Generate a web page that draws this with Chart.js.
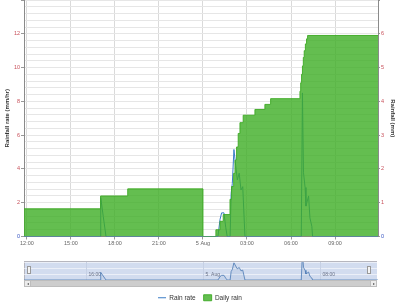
<!DOCTYPE html>
<html>
<head>
<meta charset="utf-8">
<script src="https://cdn.jsdelivr.net/npm/chart.js@4.4.1/dist/chart.umd.min.js"></script>
<style>
  html, body { margin: 0; padding: 0; background: #fff; }
  #wrap { position: relative; width: 400px; height: 303px; overflow: hidden; }
  #main { position: absolute; left: 0; top: 0; }
  #nav { position: absolute; left: 24px; top: 261px; width: 353px; height: 19px;
         background: #d2dcef; border-top: 1px solid #b6b6be; border-left: 1px solid #b6b6be; box-sizing: border-box; }
  #navc { position: absolute; left: -1px; top: 0; }
  .handle { position: absolute; top: 266px; width: 4px; height: 8px; background: #f4f4f4; border: 1px solid #999; box-sizing: border-box; }
  #scroll { position: absolute; left: 24px; top: 280px; width: 353px; height: 7px; background: #cdcdcd; border: 1px solid #bdbdbd; box-sizing: border-box; }
  .btn { position: absolute; top: 280px; width: 7px; height: 7px; background: #ececec; border: 1px solid #bdbdbd; box-sizing: border-box; }
  .arrow { position: absolute; top: 1.5px; width: 0; height: 0; border-top: 1.5px solid transparent; border-bottom: 1.5px solid transparent; }
</style>
</head>
<body>
<div id="wrap">
  <canvas id="main" width="400" height="303"></canvas>
  <div id="nav"><canvas id="navc" width="354" height="18"></canvas></div>
  <div class="handle" style="left:27px"></div>
  <div class="handle" style="left:367px"></div>
  <div id="scroll"></div>
  <div class="btn" style="left:24px"><div class="arrow" style="left:1.5px;border-right:2.5px solid #555"></div></div>
  <div class="btn" style="left:370px"><div class="arrow" style="left:2px;border-left:2.5px solid #555"></div></div>
</div>
<script>
/////////////////////////////////////////////////////////////////////////////////

// x values are hours counted from 4 Aug 00:00
var xMin = 11.8;
var xMax = 35.93;

// Tick labels
var tickHours = [12, 15, 18, 21, 24, 27, 30, 33];
var tickLabels = ['12:00', '15:00', '18:00', '21:00', '5 Aug', '03:00', '06:00', '09:00'];
var navTickHours = [16, 24, 32];
var navTickLabels = ['16:00', '5. Aug', '08:00'];

// Daily rain (mm), stepped
var rainHours = [11.8, 17.02, 18.87, 24.0, 24.88, 25.16, 25.38, 25.84, 25.95, 26.09, 26.18, 26.29, 26.40, 26.52, 26.74, 27.54, 28.22, 28.61, 30.61, 30.66, 30.72, 30.78, 30.84, 30.90, 30.98, 31.06, 31.13, 35.93];
var dailyRain = [0.82, 1.2, 1.41, 0, 0.2, 0.45, 0.65, 1.1, 1.48, 1.87, 2.26, 2.65, 3.05, 3.37, 3.59, 3.76, 3.91, 4.08, 4.3, 4.55, 4.8, 5.05, 5.3, 5.5, 5.7, 5.85, 5.95, 5.95];

// Rain rate (mm/hr)
var rateHours = [11.8, 17.0, 17.03, 17.2, 17.39, 25.02, 25.16, 25.27, 25.43, 25.55, 25.65, 25.85, 25.92, 26.0, 26.11, 26.23, 26.34, 26.47, 26.59, 26.71, 26.86, 30.70, 30.78, 30.85, 30.96, 31.02, 31.2, 31.29, 31.42, 31.47, 35.93];
var rainRate = [0, 0, 2.3, 1.2, 0, 0, 1.0, 1.4, 1.4, 0.55, 0, 0, 2.55, 3.15, 5.15, 4.2, 3.35, 3.75, 2.75, 2.95, 0, 0, 8.5, 3.8, 2.9, 1.8, 2.4, 1.1, 0.6, 0, 0];

var family = "'Liberation Sans', Arial, sans-serif";
var tickFont = { family: family, size: 5.5 };

function points(xs, ys) {
    return xs.map(function (x, i) { return { x: x, y: ys[i] }; });
}

function labelColor(c) {
    return c.tick && c.tick.value === 0 ? '#3452c2' : '#c8505a';
}

// Chart Data
var chartData = {
    datasets: [{
        label: 'Rain rate',
        data: points(rateHours, rainRate),
        yAxisID: 'y',
        borderColor: '#3a7cc6',
        backgroundColor: '#3a7cc6',
        borderWidth: 1,
        pointRadius: 0,
        fill: false,
        order: 1
    }, {
        label: 'Daily rain',
        data: points(rainHours, dailyRain),
        yAxisID: 'y2',
        stepped: 'before',
        fill: 'origin',
        backgroundColor: 'rgba(61,174,36,0.8)',
        borderColor: 'rgba(61,170,36,0.9)',
        borderWidth: 1,
        pointRadius: 0,
        order: 0
    }]
};

// Chart Options
var chartOptions = {
    responsive: false,
    animation: false,
    events: [],
    layout: { padding: { top: 0, bottom: -8, left: 0, right: 0 }, autoPadding: false },
    scales: {
        x: {
            type: 'linear',
            min: xMin,
            max: xMax,
            afterBuildTicks: function (axis) {
                axis.ticks = tickHours.map(function (v) { return { value: v }; });
            },
            ticks: {
                callback: function (v) { return tickLabels[tickHours.indexOf(v)]; },
                font: tickFont, color: '#666', padding: 1, maxRotation: 0, autoSkip: false
            },
            grid: { color: '#dadada', tickLength: 3, tickColor: '#999' },
            border: { color: '#8a8a8a' },
            afterFit: function (s) { s.height = 50; s.paddingLeft = 0; s.paddingRight = 0; }
        },
        y: {
            position: 'left',
            min: 0,
            max: 14,
            ticks: {
                stepSize: 0.4,
                autoSkip: false,
                callback: function (v) { return (v % 2 === 0 && v !== 14) ? String(v) : ''; },
                font: tickFont, color: labelColor, padding: 1
            },
            grid: {
                color: '#e6e6e6',
                tickLength: 3,
                tickColor: function (c) { return c.tick && c.tick.value % 2 === 0 ? '#999' : 'rgba(0,0,0,0)'; }
            },
            border: { color: '#8a8a8a' },
            title: {
                display: true, text: 'Rainfall rate (mm/hr)', color: '#333',
                font: { family: family, size: 6, weight: 'bold' }, padding: { top: 4, bottom: 2 }
            },
            afterFit: function (s) { s.width = 24; s.paddingTop = 0; s.paddingBottom = 0; }
        },
        y2: {
            position: 'right',
            min: 0,
            max: 7,
            ticks: {
                stepSize: 1,
                autoSkip: false,
                callback: function (v) { return v === 7 ? '' : String(v); },
                font: tickFont, color: labelColor, padding: 1
            },
            grid: { drawOnChartArea: false, tickLength: 2, tickColor: '#999' },
            border: { color: '#8a8a8a' },
            title: {
                display: true, text: 'Rainfall (mm)', color: '#333',
                font: { family: family, size: 6, weight: 'bold' }, padding: { top: 4, bottom: 2 }
            },
            afterFit: function (s) { s.width = 22; s.paddingTop = 0; s.paddingBottom = 0; }
        }
    },
    plugins: {
        tooltip: { enabled: false },
        legend: {
            position: 'bottom',
            labels: {
                usePointStyle: true,
                pointStyleWidth: 8,
                boxHeight: 6,
                padding: 8,
                color: '#333',
                font: { family: family, size: 6.5 },
                generateLabels: function (chart) {
                    var items = Chart.defaults.plugins.legend.labels.generateLabels(chart);
                    items.forEach(function (it) { it.pointStyle = it.datasetIndex === 0 ? 'line' : 'rect'; });
                    return items;
                },
                sort: function (a, b) { return a.datasetIndex - b.datasetIndex; }
            }
        }
    }
};

var config = {
    type: 'line',

    // Chart Options
    options: chartOptions,

    data: chartData
};

// Create the chart
var rainChart = new Chart(document.getElementById('main'), config);

//////////////////////////////////////////////////////////////////////////////////

// Navigator labels drawn from the navigator's own x scale
var navLabels = {
    id: 'navLabels',
    beforeDatasetsDraw: function (chart) {
        var ctx = chart.ctx;
        var xs = chart.scales.x;
        ctx.save();
        ctx.font = '5px ' + family;
        ctx.fillStyle = '#6a7288';
        ctx.strokeStyle = '#c6d0e4';
        ctx.lineWidth = 1;
        ctx.textBaseline = 'middle';
        navTickHours.forEach(function (h, i) {
            var px = Math.round(xs.getPixelForValue(h)) + 0.5;
            ctx.beginPath();
            ctx.moveTo(px, 0);
            ctx.lineTo(px, chart.height);
            ctx.stroke();
            ctx.fillText(navTickLabels[i], px + 2, 13);
        });
        ctx.restore();
    }
};

var navChart = new Chart(document.getElementById('navc'), {
    type: 'line',
    data: {
        datasets: [{
            data: points(rateHours, rainRate),
            borderColor: '#4a78b4',
            borderWidth: 0.8,
            backgroundColor: 'rgba(69,114,167,0.08)',
            fill: 'origin',
            pointRadius: 0
        }]
    },
    options: {
        responsive: false,
        animation: false,
        events: [],
        layout: { padding: 0, autoPadding: false },
        scales: {
            x: { type: 'linear', min: xMin, max: xMax, display: false },
            y: {
                min: 0, max: 5.4,
                ticks: { display: false, stepSize: 1.8 },
                grid: { color: 'rgba(255,255,255,0.55)', drawTicks: false },
                border: { display: false }
            }
        },
        plugins: { legend: { display: false }, tooltip: { enabled: false } }
    },
    plugins: [navLabels]
});
</script>
</body>
</html>
